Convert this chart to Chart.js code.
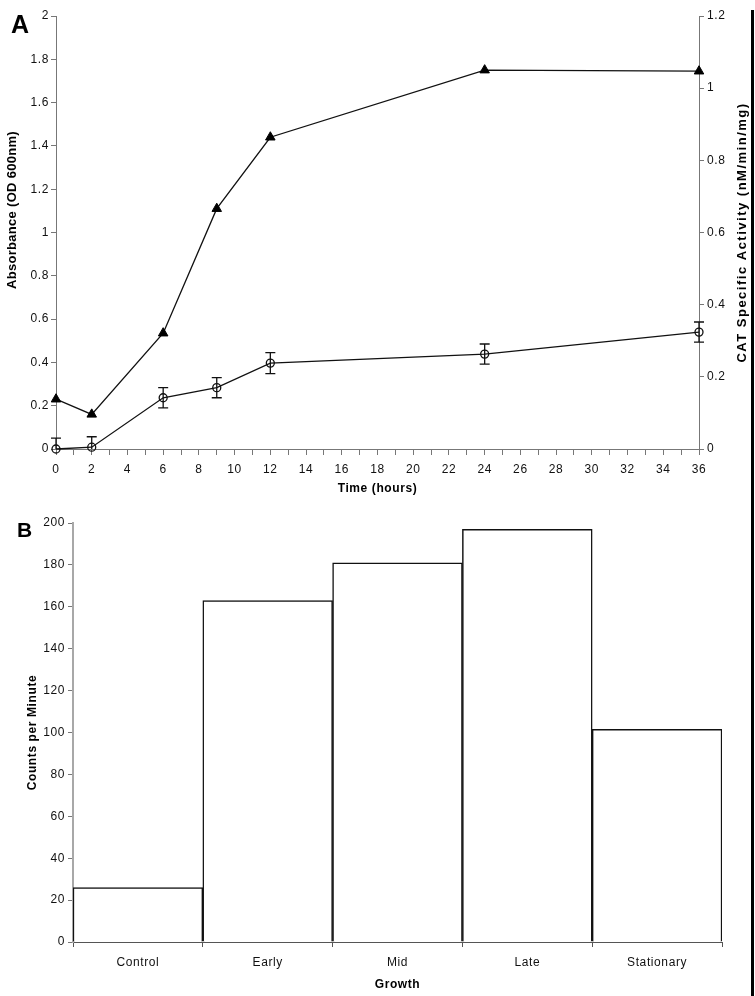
<!DOCTYPE html>
<html>
<head>
<meta charset="utf-8">
<script src="https://cdn.jsdelivr.net/npm/chart.js@4.4.1/dist/chart.umd.min.js"></script>
<style>
  html, body { margin: 0; padding: 0; background: #fff; }
  body { width: 755px; height: 996px; position: relative; overflow: hidden; }
  #cA { position: absolute; left: 0; top: 0; }
  #cB { position: absolute; left: 0; top: 500px; }
  #edge { position: absolute; left: 751px; top: 10px; width: 3px; height: 986px; background: #000; }
</style>
</head>
<body>
<canvas id="cA" width="755" height="500"></canvas>
<canvas id="cB" width="755" height="496"></canvas>
<div id="edge"></div>
<script>
// ---- Panel A data ----
const times = [0, 2, 6, 9, 12, 24, 36];                         // hours
const absorbance = [0.23, 0.16, 0.535, 1.11, 1.44, 1.75, 1.745];  // OD 600nm (triangles, left axis)
const catActivity = [0, 0.005, 0.142, 0.17, 0.238, 0.263, 0.324]; // nM/min/mg (circles, right axis)
const catError = [0.03, 0.029, 0.028, 0.028, 0.029, 0.028, 0.028];

// ---- Panel B data ----
const growthPhases = ['Control', 'Early', 'Mid', 'Late', 'Stationary'];
const countsPerMinute = [26, 163, 181, 197, 101.5];

const FONT = "'Liberation Sans', Arial, Helvetica, sans-serif";
Chart.defaults.font.family = FONT;
Chart.defaults.color = '#111';

function fmt(v) { return String(Number(Number(v).toFixed(1))); }

const spacingPlugin = {
  id: 'spacing',
  beforeUpdate(chart) { chart.ctx.letterSpacing = '0.6px'; },
  beforeDraw(chart) { chart.ctx.letterSpacing = '0.6px'; }
};

const errorBarPlugin = {
  id: 'errorBars',
  afterDatasetsDraw(chart) {
    const ctx = chart.ctx, xs = chart.scales.x, ys = chart.scales.y2, ca = chart.chartArea;
    ctx.save();
    ctx.beginPath();
    ctx.rect(ca.left - 10, ca.top, ca.right - ca.left + 20, ca.bottom - ca.top);
    ctx.clip();
    ctx.strokeStyle = '#111';
    ctx.lineWidth = 1.3;
    for (let i = 0; i < times.length; i++) {
      const x = xs.getPixelForValue(times[i]);
      const yTop = ys.getPixelForValue(catActivity[i] + catError[i]);
      const yBot = ys.getPixelForValue(catActivity[i] - catError[i]);
      ctx.beginPath();
      ctx.moveTo(x, yTop); ctx.lineTo(x, yBot);
      ctx.moveTo(x - 5, yTop); ctx.lineTo(x + 5, yTop);
      ctx.moveTo(x - 5, yBot); ctx.lineTo(x + 5, yBot);
      ctx.stroke();
    }
    ctx.restore();
  }
};

const decorA = {
  id: 'decorA',
  afterDraw(chart) {
    const ctx = chart.ctx, ca = chart.chartArea;
    ctx.save();
    ctx.fillStyle = '#000';
    ctx.letterSpacing = '0px';
    ctx.font = 'bold 25px ' + FONT;
    ctx.textAlign = 'left';
    ctx.textBaseline = 'alphabetic';
    ctx.fillText('A', 11, 33);
    ctx.restore();

    // left axis title
    ctx.save();
    ctx.fillStyle = '#000';
    ctx.translate(12, 210);
    ctx.rotate(-Math.PI / 2);
    ctx.font = 'bold 13px ' + FONT;
    ctx.letterSpacing = '0.3px';
    ctx.textAlign = 'center';
    ctx.textBaseline = 'middle';
    ctx.fillText('Absorbance (OD 600nm)', 0, 0);
    ctx.restore();

    // right axis title
    ctx.save();
    ctx.fillStyle = '#000';
    ctx.translate(742, (ca.top + ca.bottom) / 2);
    ctx.rotate(-Math.PI / 2);
    ctx.font = 'bold 13px ' + FONT;
    ctx.letterSpacing = '1.5px';
    ctx.textAlign = 'center';
    ctx.textBaseline = 'middle';
    ctx.fillText('CAT Specific Activity (nM/min/mg)', 0, 0);
    ctx.restore();
  }
};

const decorB = {
  id: 'decorB',
  afterDraw(chart) {
    const ctx = chart.ctx;
    ctx.save();
    ctx.fillStyle = '#000';
    ctx.letterSpacing = '0px';
    ctx.font = 'bold 21px ' + FONT;
    ctx.textBaseline = 'alphabetic';
    ctx.fillText('B', 17, 37);
    ctx.restore();
  }
};

const tickFont = { size: 12, family: FONT };
const titleFont = { size: 12, weight: 'bold', family: FONT };

new Chart(document.getElementById('cA'), {
  type: 'line',
  data: {
    datasets: [
      {
        label: 'Absorbance',
        data: times.map((t, i) => ({ x: t, y: absorbance[i] })),
        yAxisID: 'y',
        borderColor: '#111',
        borderWidth: 1.3,
        pointStyle: 'triangle',
        pointRadius: 5.5,
        pointBackgroundColor: '#000',
        pointBorderColor: '#000',
        pointBorderWidth: 1,
        tension: 0,
        clip: false
      },
      {
        label: 'CAT Specific Activity',
        data: times.map((t, i) => ({ x: t, y: catActivity[i] })),
        yAxisID: 'y2',
        borderColor: '#111',
        borderWidth: 1.3,
        pointStyle: 'circle',
        pointRadius: 4,
        pointBackgroundColor: 'rgba(0,0,0,0)',
        pointBorderColor: '#111',
        pointBorderWidth: 1.3,
        tension: 0,
        clip: false
      }
    ]
  },
  options: {
    responsive: false,
    animation: false,
    devicePixelRatio: 1,
    events: [],
    layout: { padding: { top: 16, left: 0, right: 0, bottom: 0 } },
    plugins: { legend: { display: false }, tooltip: { enabled: false } },
    scales: {
      x: {
        type: 'linear', min: 0, max: 36,
        afterFit: s => { s.height = 51; },
        border: { color: '#777', width: 1 },
        grid: { drawOnChartArea: false, drawTicks: true, tickLength: 6, color: '#777' },
        ticks: { stepSize: 1, autoSkip: false, maxRotation: 0, font: tickFont, color: '#111', padding: 7,
                 callback: v => (v % 2 === 0 ? String(v) : '') },
        title: { display: true, text: 'Time (hours)', font: titleFont, color: '#000', padding: { top: 2, bottom: 4 } }
      },
      y: {
        position: 'left', min: 0, max: 2,
        afterFit: s => { s.width = 56; },
        border: { color: '#777', width: 1 },
        grid: { drawOnChartArea: false, tickLength: 5, color: '#777' },
        ticks: { stepSize: 0.2, font: tickFont, color: '#111', padding: 2, callback: v => fmt(v) },
        title: { display: false }
      },
      y2: {
        position: 'right', min: 0, max: 1.2,
        afterFit: s => { s.width = 56; },
        border: { color: '#777', width: 1 },
        grid: { drawOnChartArea: false, tickLength: 5, color: '#777' },
        ticks: { stepSize: 0.2, font: tickFont, color: '#111', padding: 3, callback: v => fmt(v) },
        title: { display: false }
      }
    }
  },
  plugins: [spacingPlugin, errorBarPlugin, decorA]
});

new Chart(document.getElementById('cB'), {
  type: 'bar',
  data: {
    labels: growthPhases,
    datasets: [{
      label: 'Counts per Minute',
      data: countsPerMinute,
      backgroundColor: '#fff',
      borderColor: '#111',
      borderWidth: 1.5,
      barPercentage: 1,
      categoryPercentage: 1
    }]
  },
  options: {
    responsive: false,
    animation: false,
    devicePixelRatio: 1,
    events: [],
    layout: { padding: { top: 23, left: 21, right: 33, bottom: 0 } },
    plugins: { legend: { display: false }, tooltip: { enabled: false } },
    scales: {
      x: {
        afterFit: s => { s.height = 54; },
        border: { color: '#555', width: 1 },
        grid: { offset: true, drawOnChartArea: false, tickLength: 5, color: '#555' },
        ticks: { font: tickFont, color: '#111', padding: 8, maxRotation: 0 },
        title: { display: true, text: 'Growth', font: titleFont, color: '#000', padding: { top: 2, bottom: 4 } }
      },
      y: {
        min: 0, max: 200, z: 1,
        afterFit: s => { s.width = 52; },
        border: { color: '#a8a8a8', width: 2 },
        grid: { drawOnChartArea: false, tickLength: 5, color: '#777' },
        ticks: { stepSize: 20, font: tickFont, color: '#111', padding: 3 },
        title: { display: true, text: 'Counts per Minute', font: titleFont, color: '#000', padding: { top: 4, bottom: 2 } }
      }
    }
  },
  plugins: [spacingPlugin, decorB]
});
</script>
</body>
</html>
